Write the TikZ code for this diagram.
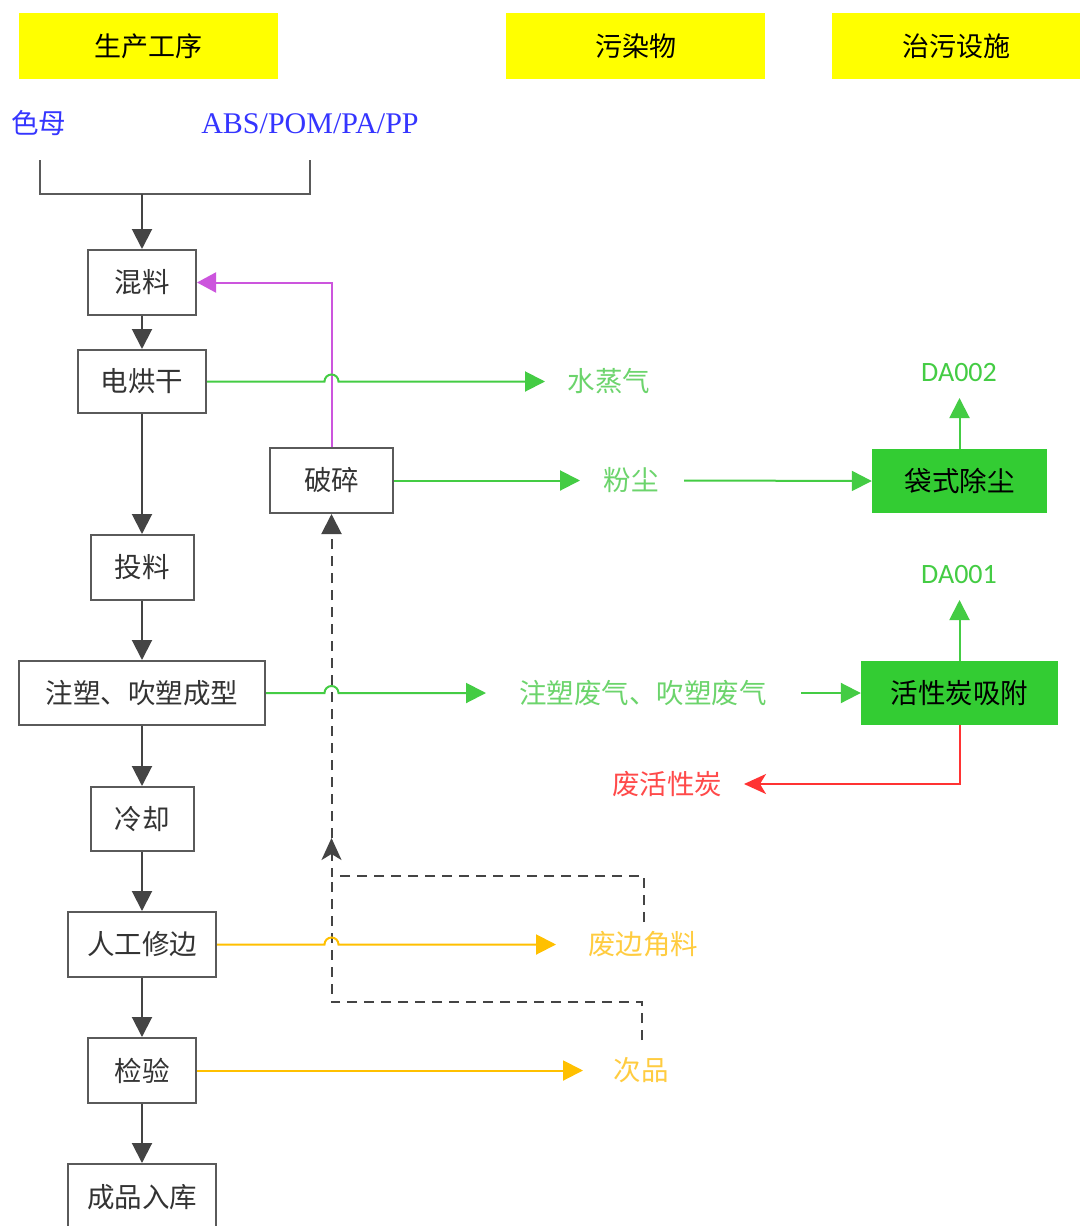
\documentclass[tikz,border=0pt]{standalone}
\usepackage{fontspec}
\setmainfont{Liberation Serif}
\newfontfamily\cjk{Noto Sans CJK SC}
\newfontfamily\calfont{Carlito}
\usetikzlibrary{arrows.meta,calc}
\definecolor{hdr}{HTML}{FFFF00}
\definecolor{boxgray}{HTML}{5A5A5A}
\definecolor{flowgray}{HTML}{444444}
\definecolor{txtgray}{HTML}{333333}
\definecolor{gfill}{HTML}{33CC33}
\definecolor{gline}{HTML}{44CC44}
\definecolor{gtxt}{HTML}{6CD46C}
\definecolor{rline}{HTML}{FF3333}
\definecolor{rtxt}{HTML}{FF4A4A}
\definecolor{oline}{HTML}{FFC000}
\definecolor{otxt}{HTML}{FFCC40}
\definecolor{mline}{HTML}{CC55DD}
\definecolor{btxt}{HTML}{3535FF}
\tikzset{
  cjkfont/.style={font=\cjk\fontsize{27.5}{27.5}\selectfont},
  procbox/.style={draw=boxgray, line width=2pt, fill=white, inner sep=0pt, cjkfont, text=txtgray},
  header/.style={fill=hdr, inner sep=0pt, font=\cjk\fontsize{27}{27}\selectfont, text=black, minimum height=66pt},
  gbox/.style={fill=gfill, inner sep=0pt, cjkfont, text=black},
  lbl/.style={inner sep=0pt, cjkfont},
  grayline/.style={line width=2pt, draw=boxgray},
  tip/.style={-{Triangle[length=20pt,width=20pt]}},
  flow/.style={line width=2pt, draw=flowgray, tip},
  gflow/.style={line width=2pt, draw=gline, -{Triangle[length=20pt,width=20pt,fill=gline]}},
  oflow/.style={line width=2pt, draw=oline, -{Triangle[length=20pt,width=20pt,fill=oline]}},
  rflow/.style={line width=2pt, draw=rline, -{Stealth[length=22pt,width=20pt,inset=6pt,fill=rline]}},
  mflow/.style={line width=2pt, draw=mline, -{Triangle[length=19pt,width=20pt,fill=mline]}},
  dline/.style={line width=2pt, draw=flowgray, dash pattern=on 10pt off 7pt},
  dflow/.style={dline, -{Stealth[length=22pt,width=20pt,inset=6pt]}},
  dflowt/.style={dline, tip},
}
\begin{document}
\begin{tikzpicture}[x=1pt,y=-1pt]
\path[use as bounding box] (0,0) rectangle (1083,1226);
\clip (0,0) rectangle (1083,1226);
\fill[white] (0,0) rectangle (1083,1226);

% headers
\node[header, minimum width=259pt] (h1) at (148.5,46) {生产工序};
\node[header, minimum width=259pt] (h2) at (635.5,46) {污染物};
\node[header, minimum width=248pt] (h3) at (956,46) {治污设施};

% raw materials
\node[lbl, text=btxt] (sm) at (39,123) {色母};
\node[lbl, text=btxt, font=\fontsize{30}{30}\selectfont] (abs) at (310,124) {ABS/POM/PA/PP};

% process boxes
\node[procbox, minimum width=108pt, minimum height=65pt] (mix) at (142,282.5) {混料};
\node[procbox, minimum width=128pt, minimum height=63pt] (dry) at (142,381.5) {电烘干};
\node[procbox, minimum width=123pt, minimum height=65pt] (crush) at (331.5,480.5) {破碎};
\node[procbox, minimum width=103pt, minimum height=65pt] (feed) at (142,567.5) {投料};
\node[procbox, minimum width=246pt, minimum height=64pt] (mold) at (142,693) {注塑、吹塑成型};
\node[procbox, minimum width=103pt, minimum height=64pt] (cool) at (142,819) {冷却};
\node[procbox, minimum width=148pt, minimum height=65pt] (trim) at (142,944.5) {人工修边};
\node[procbox, minimum width=108pt, minimum height=65pt] (insp) at (142,1070.5) {检验};
\node[procbox, minimum width=148pt, minimum height=66pt] (store) at (142,1197) {成品入库};

% treatment boxes
\node[gbox, minimum width=175pt, minimum height=64pt] (bag) at (959.5,481) {袋式除尘};
\node[gbox, minimum width=197pt, minimum height=64pt] (ac) at (959.5,693) {活性炭吸附};

% pollutant labels
\node[lbl, text=gtxt] (steam) at (609,381) {水蒸气};
\node[lbl, text=gtxt] (dust) at (631,480) {粉尘};
\node[lbl, text=gtxt] (gas) at (643,693) {注塑废气、吹塑废气};
\node[lbl, text=rtxt] (wac) at (667,784) {废活性炭};
\node[lbl, text=otxt] (scrap) at (643,944) {废边角料};
\node[lbl, text=otxt] (defect) at (641,1070) {次品};
\node[lbl, text=gline, font=\calfont\fontsize{28}{28}\selectfont] (da2) at (959,373) {DA002};
\node[lbl, text=gline, font=\calfont\fontsize{28}{28}\selectfont] (da1) at (959,575) {DA001};

% coordinates
\coordinate (b1) at (40,160);
\coordinate (b2) at (40,194);
\coordinate (b3) at (310,194);
\coordinate (b4) at (310,160);
\coordinate (bm) at (142,194);
\coordinate (steamtip) at (545,381.5);
\coordinate (dusttip) at (580,480.5);
\coordinate (dustout) at (684,480.5);
\coordinate (gastip) at (486,693);
\coordinate (gasout) at (801,693);
\coordinate (wactip) at (744,784);
\coordinate (scraptip) at (556,944.5);
\coordinate (defecttip) at (583,1070.5);
\coordinate (da2tip) at (959.5,398);
\coordinate (da1tip) at (959.5,600);
\coordinate (hopA) at (331.5,381.5);
\coordinate (hopB) at (331.5,693);
\coordinate (hopC) at (331.5,944.5);
\coordinate (d1) at (644,922);
\coordinate (d2) at (644,876);
\coordinate (d3) at (331.5,876);
\coordinate (d4) at (331.5,838);
\coordinate (e1) at (642,1040);
\coordinate (e2) at (642,1002);
\coordinate (e3) at (331.5,1002);

% bracket and main flow
\draw[grayline] (b1) -- (b2) -- (b3) -- (b4);
\draw[flow] (bm) -- (mix.north);
\draw[flow] (mix.south) -- (dry.north);
\draw[flow] (dry.south) -- (feed.north);
\draw[flow] (feed.south) -- (mold.north);
\draw[flow] (mold.south) -- (cool.north);
\draw[flow] (cool.south) -- (trim.north);
\draw[flow] (trim.south) -- (insp.north);
\draw[flow] (insp.south) -- (store.north);

% recycle of crushed material
\draw[mflow] (crush.north) |- (mix.east);

% dashed returns
\draw[dflow] (d1) -- (d2) -- (d3) -- (d4);
\draw[dline] (e1) -- (e2) -- (e3) -- (d3);
\draw[dflowt] (d4) -- (crush.south);

% green flows
\draw[gflow] (dry.east) -- ([xshift=-7pt]hopA) arc[start angle=180, end angle=360, radius=7] -- (steamtip);
\draw[gflow] (crush.east) -- (dusttip);
\draw[gflow] (dustout) -- (bag.west);
\draw[gflow] (mold.east) -- ([xshift=-7pt]hopB) arc[start angle=180, end angle=360, radius=7] -- (gastip);
\draw[gflow] (gasout) -- (ac.west);
\draw[gflow] (bag.north) -- (da2tip);
\draw[gflow] (ac.north) -- (da1tip);

% red
\draw[rflow] (ac.south) |- (wactip);

% orange
\draw[oflow] (trim.east) -- ([xshift=-7pt]hopC) arc[start angle=180, end angle=360, radius=7] -- (scraptip);
\draw[oflow] (insp.east) -- (defecttip);
\end{tikzpicture}
\end{document}
